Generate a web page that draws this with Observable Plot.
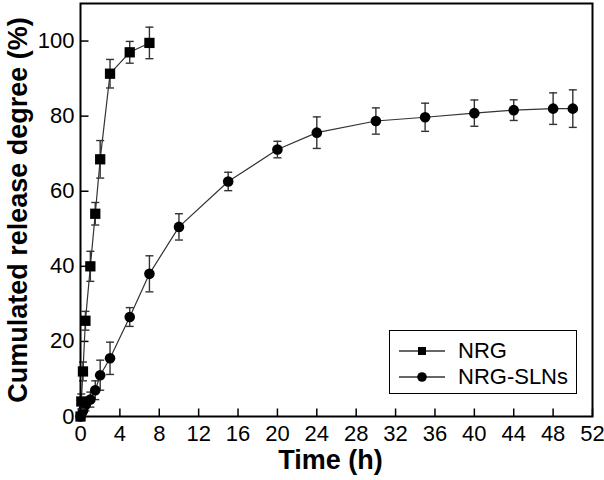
<!DOCTYPE html>
<html>
<head>
<meta charset="utf-8">
<script src="https://cdn.jsdelivr.net/npm/d3@7"></script>
<script src="https://cdn.jsdelivr.net/npm/@observablehq/plot@0.6"></script>
<style>
  html, body { margin: 0; padding: 0; background: #fff; }
  #wrap { position: relative; width: 604px; height: 480px; overflow: hidden; font-family: "Liberation Sans", Arial, sans-serif; }
  #legend { position: absolute; left: 389px; top: 330px; width: 188px; height: 64px; box-sizing: border-box; border: 1.5px solid #000; background: #fff; }
  .row { position: absolute; left: 0; height: 26px; display: flex; align-items: center; }
  .row span { font-size: 22px; color: #000; margin-left: 8px; }
</style>
</head>
<body>
<div id="wrap"><div id="chart"></div><div id="legend"></div></div>
<script>
// ---- data ----
const nrgTime  = [0, 0.083, 0.25, 0.5, 1, 1.5, 2, 3, 5, 7];
const nrgValue = [0, 4, 12, 25.5, 40, 54, 68.5, 91.3, 97, 99.5];
const nrgErr   = [0, 2, 2.5, 2.5, 4, 3, 5, 3.8, 2.9, 4.2];

const slnTime  = [0, 0.25, 0.5, 1, 1.5, 2, 3, 5, 7, 10, 15, 20, 24, 30, 35, 40, 44, 48, 50];
const slnValue = [0, 1.5, 3, 4.5, 7, 11, 15.5, 26.5, 38, 50.5, 62.6, 71.1, 75.6, 78.7, 79.7, 80.8, 81.6, 82, 82];
const slnErr   = [0, 1, 1.5, 2, 2.5, 4, 4.3, 2.5, 4.8, 3.5, 2.45, 2.2, 4.2, 3.5, 3.75, 3.5, 2.75, 4.2, 5];

const xTicks = d3.range(0, 53, 4);
const yTicks = [0, 20, 40, 60, 80, 100];
const seriesNames = ["NRG", "NRG-SLNs"];

const nrg = nrgTime.map((t, i) => ({t, v: nrgValue[i], e: nrgErr[i]}));
const sln = slnTime.map((t, i) => ({t, v: slnValue[i], e: slnErr[i]}));

// custom symbols
const capSymbol = {draw(ctx) { ctx.moveTo(-4, 0); ctx.lineTo(4, 0); }};
const tickUp = {draw(ctx) { ctx.moveTo(0, 0); ctx.lineTo(0, -8); }};
const tickRight = {draw(ctx) { ctx.moveTo(0, 0); ctx.lineTo(8, 0); }};

const lineColor = "#333";
const barColor = "#333";

function seriesMarks(data, symbol, r) {
  const withErr = data.filter(d => d.e > 0);
  return [
    Plot.line(data, {x: "t", y: "v", stroke: lineColor, strokeWidth: 1.2}),
    Plot.ruleX(withErr, {x: "t", y1: d => d.v - d.e, y2: d => d.v + d.e, stroke: barColor, strokeWidth: 1.4}),
    Plot.dot(withErr, {x: "t", y: d => d.v + d.e, symbol: capSymbol, stroke: barColor, strokeWidth: 1.4, fill: "none"}),
    Plot.dot(withErr, {x: "t", y: d => d.v - d.e, symbol: capSymbol, stroke: barColor, strokeWidth: 1.4, fill: "none"}),
    Plot.dot(data, {x: "t", y: "v", symbol, r, fill: "#000", stroke: "none"})
  ];
}

const chart = Plot.plot({
  width: 604,
  height: 480,
  marginLeft: 80,
  marginRight: 12,
  marginTop: 3,
  marginBottom: 64,
  style: {fontFamily: "'Liberation Sans', Arial, sans-serif", background: "#fff", overflow: "visible"},
  x: {domain: [0, 52]},
  y: {domain: [0, 110]},
  marks: [
    Plot.axisX({ticks: xTicks, tickSize: 0, tickPadding: 9, fontSize: 22, label: null, tickFormat: d => d}),
    Plot.axisY({ticks: yTicks, tickSize: 0, tickPadding: 6, fontSize: 22, label: null, tickFormat: d => d}),
    Plot.dot(xTicks.slice(1), {x: d => d, frameAnchor: "bottom", symbol: tickUp, stroke: "#000", strokeWidth: 1.5, fill: "none"}),
    Plot.dot(yTicks.slice(1), {y: d => d, frameAnchor: "left", symbol: tickRight, stroke: "#000", strokeWidth: 1.5, fill: "none"}),
    ...seriesMarks(sln, "circle", 5.3),
    ...seriesMarks(nrg, "square", 5.8),
    Plot.frame({stroke: "#000", strokeWidth: 2}),
    Plot.text(["Time (h)"], {frameAnchor: "bottom", textAnchor: "middle", dy: 52, dx: -6, fontSize: 27, fontWeight: "bold", fill: "#000"}),
    Plot.text(["Cumulated release degree (%)"], {frameAnchor: "left", textAnchor: "middle", dx: -62, rotate: -90, fontSize: 27, fontWeight: "bold", fill: "#000"})
  ]
});
document.getElementById("chart").appendChild(chart);

// legend
const legend = d3.select("#legend");
const legendSymbols = [d3.symbolSquare, d3.symbolCircle];
const legendSizes = [64, 72];
seriesNames.forEach((name, i) => {
  const row = legend.append("div").attr("class", "row").style("top", (i === 0 ? 7 : 33) + "px");
  const svg = row.append("svg").attr("width", 60).attr("height", 26).style("display", "block");
  svg.append("line").attr("x1", 9).attr("x2", 55).attr("y1", 13).attr("y2", 13).attr("stroke", lineColor).attr("stroke-width", 1.3);
  svg.append("path").attr("d", d3.symbol(legendSymbols[i], legendSizes[i])()).attr("transform", "translate(32,13)").attr("fill", "#000");
  row.append("span").text(name);
});
</script>
</body>
</html>
